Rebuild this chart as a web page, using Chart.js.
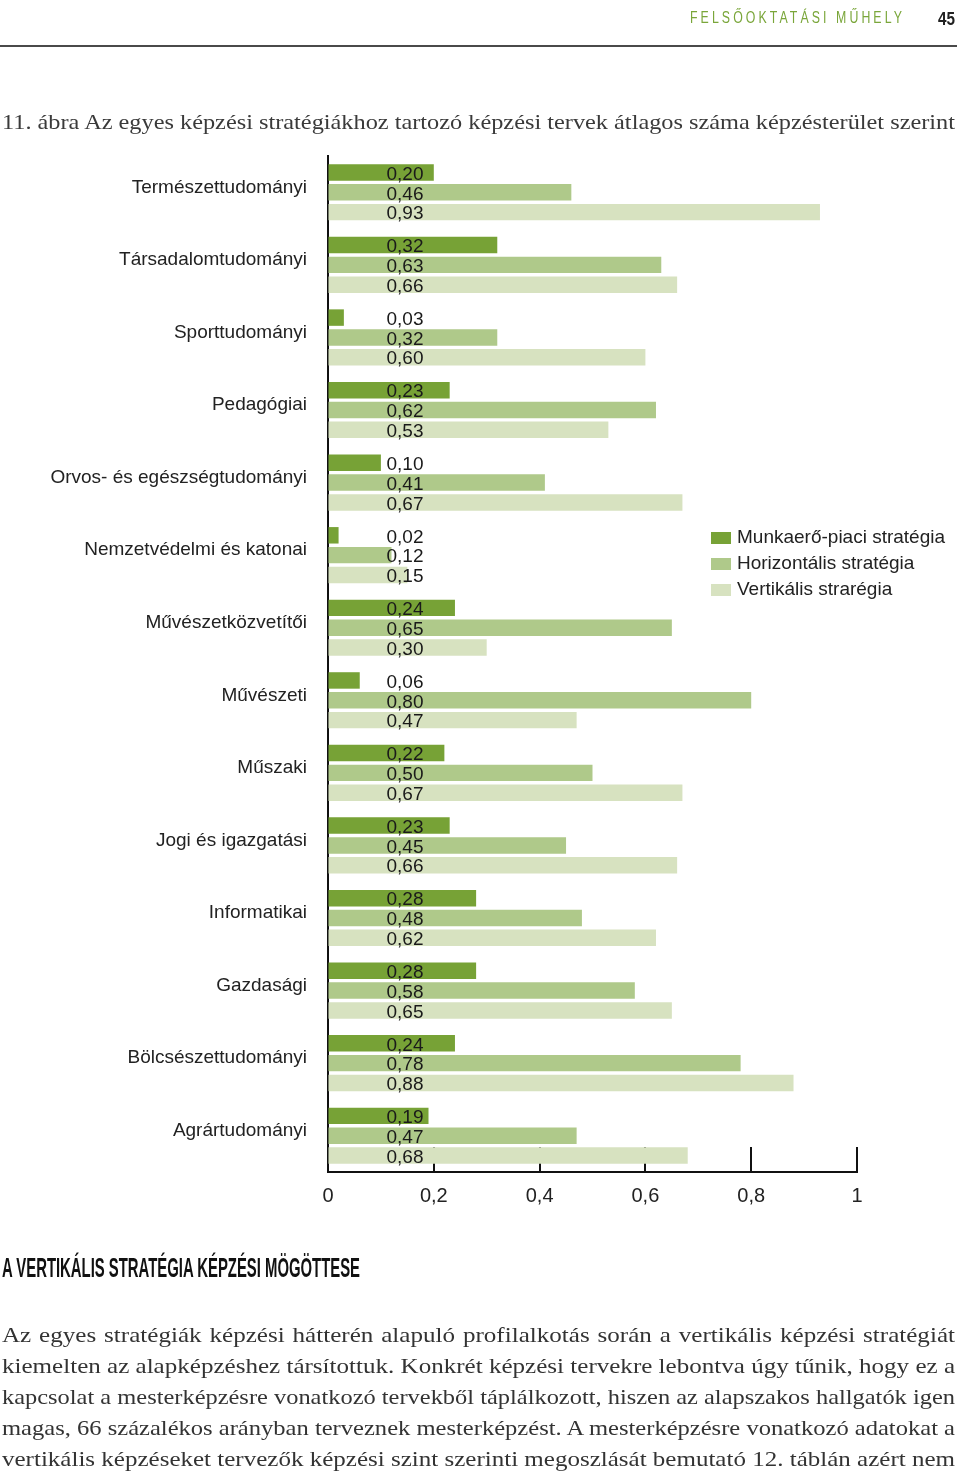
<!DOCTYPE html>
<html>
<head>
<meta charset="utf-8">
<script src="https://cdn.jsdelivr.net/npm/chart.js@4.4.1/dist/chart.umd.min.js"></script>
<style>
  body { margin: 0; background: #fff; }
  #page { position: relative; width: 960px; height: 1478px; overflow: hidden; }
  #chart { position: absolute; left: 0; top: 0; }
  .abs { position: absolute; white-space: nowrap; }
  .fit { display: inline-block; transform-origin: left center; }
  #head { right: 55px; top: 9px; color: #7aa63a; font: 16px "Liberation Sans", Arial, sans-serif; letter-spacing: 4px; }
  #pnum { right: 5px; top: 9px; color: #222; font: bold 18px "Liberation Sans", Arial, sans-serif; }
  #rule { left: 0; top: 45px; width: 957px; height: 2px; background: #4a4a4a; }
  #sub { left: 2px; top: 1252px; font: bold 28px "Liberation Sans", Arial, sans-serif; color: #111; }
  .line { position: absolute; left: 2px; white-space: nowrap; transform-origin: left top; }
  .line.body { font: 22px "Liberation Serif", "DejaVu Serif", serif; color: #333; height: 31px; line-height: 31px; }
  .line.ttl { font: 22px "Liberation Serif", "DejaVu Serif", serif; color: #3a3a3a; height: 28px; line-height: 28px; }
  #legend { left: 711px; top: 524px; font: 19px "Liberation Sans", Arial, sans-serif; color: #222; }
  #legend div { height: 26px; line-height: 26px; }
  #legend span.box { display: inline-block; width: 20px; height: 12px; margin-right: 6px; vertical-align: -1px; }
</style>
</head>
<body>
<div id="page">
  <canvas id="chart" width="960" height="1478"></canvas>
  <div id="head" class="abs"><span class="fit" id="headText">FELSŐOKTATÁSI MŰHELY</span></div>
  <div id="pnum" class="abs"><span class="fit" id="pnumText">45</span></div>
  <div id="rule" class="abs"></div>
  <div class="line ttl" style="top:108px">11. ábra Az egyes képzési stratégiákhoz tartozó képzési tervek átlagos száma képzésterület szerint</div>
  <div id="legend" class="abs"></div>
  <div id="sub" class="abs"><span class="fit" id="subText">A VERTIKÁLIS STRATÉGIA KÉPZÉSI MÖGÖTTESE</span></div>
  <div class="line body" style="top:1319px">Az egyes stratégiák képzési hátterén alapuló profilalkotás során a vertikális képzési stratégiát</div>
  <div class="line body" style="top:1350px">kiemelten az alapképzéshez társítottuk. Konkrét képzési tervekre lebontva úgy tűnik, hogy ez a</div>
  <div class="line body" style="top:1381px">kapcsolat a mesterképzésre vonatkozó tervekből táplálkozott, hiszen az alapszakos hallgatók igen</div>
  <div class="line body" style="top:1412px">magas, 66 százalékos arányban terveznek mesterképzést. A mesterképzésre vonatkozó adatokat a</div>
  <div class="line body" style="top:1443px">vertikális képzéseket tervezők képzési szint szerinti megoszlását bemutató 12. táblán azért nem</div>
</div>
<script>
var categories = ["Természettudományi", "Társadalomtudományi", "Sporttudományi", "Pedagógiai",
  "Orvos- és egészségtudományi", "Nemzetvédelmi és katonai", "Művészetközvetítői", "Művészeti",
  "Műszaki", "Jogi és igazgatási", "Informatikai", "Gazdasági", "Bölcsészettudományi", "Agrártudományi"];
var seriesNames = ["Munkaerő-piaci stratégia", "Horizontális stratégia", "Vertikális strarégia"];
var munkaero = [0.20, 0.32, 0.03, 0.23, 0.10, 0.02, 0.24, 0.06, 0.22, 0.23, 0.28, 0.28, 0.24, 0.19];
var horizontalis = [0.46, 0.63, 0.32, 0.62, 0.41, 0.12, 0.65, 0.80, 0.50, 0.45, 0.48, 0.58, 0.78, 0.47];
var vertikalis = [0.93, 0.66, 0.60, 0.53, 0.67, 0.15, 0.30, 0.47, 0.67, 0.66, 0.62, 0.65, 0.88, 0.68];
var xTicks = [0, 0.2, 0.4, 0.6, 0.8, 1];
var colors = ["#77a236", "#afc98a", "#d7e2c0"];

// squeeze condensed-looking text to the widths in the picture
function fitWidth(id, w) {
  var el = document.getElementById(id);
  var natural = el.getBoundingClientRect().width;
  el.style.transform = "scaleX(" + (w / natural) + ")";
  el.parentNode.style.width = w + "px";
}
fitWidth("headText", 215);
fitWidth("pnumText", 17);
fitWidth("subText", 358);

// the book serif is wider than ours: stretch a bit, justify the rest
var full = 953;
document.querySelectorAll(".line").forEach(function(el) {
  var w = el.getBoundingClientRect().width;
  var s = Math.min(1.14, full / w);
  el.style.whiteSpace = "normal";
  el.style.width = (full / s) + "px";
  el.style.textAlign = "justify";
  el.style.textAlignLast = "justify";
  el.style.transform = "scaleX(" + s + ")";
});

var legend = document.getElementById("legend");
seriesNames.forEach(function(name, i) {
  var row = document.createElement("div");
  row.innerHTML = '<span class="box" style="background:' + colors[i] + '"></span>' + name;
  legend.appendChild(row);
});

var fmt = function(v, digits) {
  return v.toFixed(digits).replace(".", ",");
};

var valueLabels = {
  id: "valueLabels",
  afterDatasetsDraw: function(chart) {
    var ctx = chart.ctx;
    var left = chart.chartArea.left;
    ctx.save();
    ctx.font = "19px 'Liberation Sans', Arial, sans-serif";
    ctx.fillStyle = "#1a1a1a";
    ctx.textAlign = "center";
    ctx.textBaseline = "middle";
    chart.data.datasets.forEach(function(ds, di) {
      chart.getDatasetMeta(di).data.forEach(function(bar, i) {
        ctx.fillText(fmt(ds.data[i], 2), left + 77, bar.y + 2);
      });
    });
    ctx.restore();
  }
};

// tick marks stand up from the x axis, behind the bars
var upTicks = {
  id: "upTicks",
  beforeDatasetsDraw: function(chart) {
    var ctx = chart.ctx;
    var xs = chart.scales.x;
    var bottom = chart.chartArea.bottom;
    ctx.save();
    ctx.strokeStyle = "#111";
    ctx.lineWidth = 2;
    xTicks.slice(1).forEach(function(t) {
      var x = Math.round(xs.getPixelForValue(t));
      ctx.beginPath();
      ctx.moveTo(x, bottom);
      ctx.lineTo(x, bottom - 25);
      ctx.stroke();
    });
    ctx.restore();
  }
};

new Chart(document.getElementById("chart"), {
  type: "bar",
  data: {
    labels: categories,
    datasets: [
      { label: seriesNames[0], data: munkaero, backgroundColor: colors[0] },
      { label: seriesNames[1], data: horizontalis, backgroundColor: colors[1] },
      { label: seriesNames[2], data: vertikalis, backgroundColor: colors[2] }
    ]
  },
  options: {
    indexAxis: "y",
    responsive: false,
    animation: false,
    barPercentage: 0.83,
    categoryPercentage: 0.82,
    layout: { padding: { top: 156, right: 103, left: 0, bottom: 0 } },
    plugins: { legend: { display: false }, tooltip: { enabled: false } },
    scales: {
      x: {
        min: 0,
        max: 1,
        afterBuildTicks: function(scale) {
          scale.ticks = xTicks.map(function(v) { return { value: v }; });
        },
        afterFit: function(scale) { scale.height = 1478 - 1172; },
        grid: { drawOnChartArea: false, drawTicks: false },
        border: { color: "#111", width: 2 },
        ticks: {
          padding: 12,
          color: "#222",
          font: { family: "'Liberation Sans', Arial, sans-serif", size: 20 },
          callback: function(v) { return fmt(v, v === 0 || v === 1 ? 0 : 1); }
        }
      },
      y: {
        afterFit: function(scale) { scale.width = 328; },
        grid: { display: false, drawTicks: false },
        border: { color: "#111", width: 2 },
        ticks: {
          padding: 21,
          labelOffset: -5,
          color: "#222",
          font: { family: "'Liberation Sans', Arial, sans-serif", size: 19 }
        }
      }
    }
  },
  plugins: [upTicks, valueLabels]
});
</script>
</body>
</html>
